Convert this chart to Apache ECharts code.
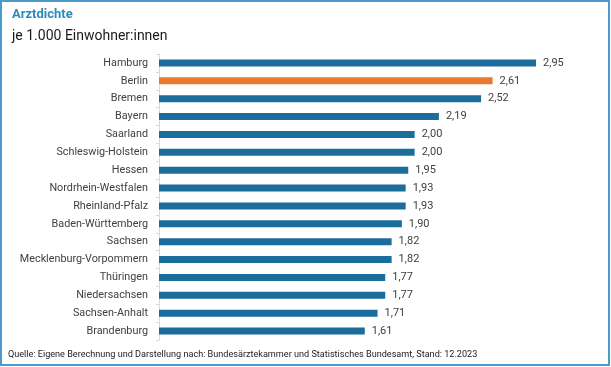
<!DOCTYPE html>
<html><head><meta charset="utf-8">
<script src="https://cdn.jsdelivr.net/npm/echarts@6/dist/echarts.min.js"></script>
<style>html,body{margin:0;padding:0;background:#fff}#c{width:611px;height:367px}</style>
</head><body><div id="c"></div>
<script>
const categories = ["Hamburg","Berlin","Bremen","Bayern","Saarland","Schleswig-Holstein","Hessen","Nordrhein-Westfalen","Rheinland-Pfalz","Baden-Württemberg","Sachsen","Mecklenburg-Vorpommern","Thüringen","Niedersachsen","Sachsen-Anhalt","Brandenburg"];
const values = [2.95,2.61,2.52,2.19,2.00,2.00,1.95,1.93,1.93,1.90,1.82,1.82,1.77,1.77,1.71,1.61];
const highlight = "Berlin";
const titleText = "Arztdichte";
const subtitleText = "je 1.000 Einwohner:innen";
const sourceText = "Quelle: Eigene Berechnung und Darstellung nach: Bundesärztekammer und Statistisches Bundesamt, Stand: 12.2023";

const font = "Roboto";
const chart = echarts.init(document.getElementById('c'), null, {renderer:'canvas'});
chart.setOption({
  animation:false,
  backgroundColor:'#fff',
  grid:{left:159, right:43, top:54, bottom:27, containLabel:false},
  xAxis:{type:'value', min:0, max:3.2, show:false},
  yAxis:{type:'category', data:categories, inverse:true,
    axisLine:{show:true, lineStyle:{color:'#d9d9d9', width:1}},
    axisTick:{show:true, length:3, lineStyle:{color:'#d9d9d9'}},
    axisLabel:{fontFamily:font, fontSize:10.8, color:'#404040', margin:11}
  },
  series:[{type:'bar', barWidth:7,
    data: values.map((v,i)=>({value:v, itemStyle:{color: categories[i]===highlight ? '#e9792f' : '#1b6d9b'}})),
    label:{show:true, position:'right', distance:7, fontFamily:font, fontSize:11, color:'#404040',
      formatter:p=>p.value.toFixed(2).replace('.',',')}
  }],
  graphic:[
    {type:'rect', shape:{x:1, y:1, width:608, height:364}, style:{fill:'none', stroke:'#4a9bc9', lineWidth:2}, silent:true},
    {type:'text', left:12, top:8, style:{text:titleText, font:'bold 13px '+font, fill:'#2a8bbd'}},
    {type:'text', left:12, top:29, style:{text:subtitleText, font:'14px '+font, fill:'#1a1a1a'}},
    {type:'text', left:8, top:350, style:{text:sourceText, font:'9.1px '+font, fill:'#1a1a1a'}}
  ]
});
</script></body></html>
